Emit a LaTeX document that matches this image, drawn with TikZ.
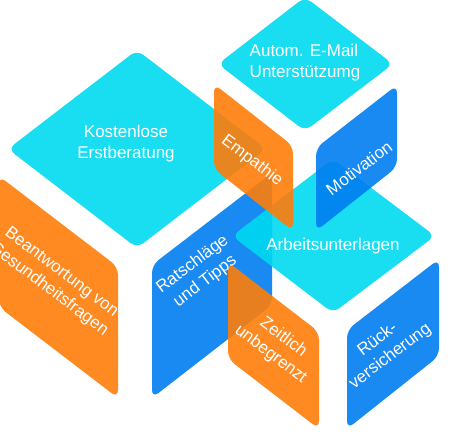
\documentclass[tikz,border=0pt]{standalone}
\usepackage{fontspec}
\setmainfont{Liberation Sans}
\begin{document}
\begin{tikzpicture}[x=1pt, y=-1pt,
    tile/.style={rounded corners=8pt, fill opacity=0.9},
    cyantile/.style={tile, fill=tilecyan},
    orangetile/.style={tile, fill=tileorange},
    bluetile/.style={tile, fill=tileblue},
    lbl/.style={text=white, align=center, font=\fontsize{17}{21}\selectfont, inner sep=0pt}]
    % Farben wie im Bild
    \definecolor{tilecyan}{RGB}{0, 217, 240}
    \definecolor{tileorange}{RGB}{255, 125, 10}
    \definecolor{tileblue}{RGB}{0, 125, 240}

    \useasboundingbox (0,0) rectangle (463,440);
    \clip (0,0) rectangle (463,440);

    % 1. Grosser Wuerfel links
    \fill[cyantile] (137,50) -- (266,149) -- (137,248) -- (8,149) -- cycle;
    \fill[orangetile] (-1,176) -- (118,267) -- (118,398) -- (-1,307) -- cycle;
    \fill[bluetile] (152,265) -- (272,173) -- (272,305) -- (152,398) -- cycle;

    % 2. Kleiner Wuerfel oben rechts
    \fill[cyantile] (305,-3) -- (393,64) -- (305,131) -- (218,64) -- cycle;

    % 3. Wuerfel unten rechts
    \fill[cyantile] (333,159) -- (435,236) -- (333,313) -- (232,236) -- cycle;
    \fill[bluetile] (316,148) -- (397,85) -- (397,167) -- (316,231) -- cycle;
    \fill[orangetile] (214,84) -- (293,146) -- (293,231) -- (214,169) -- cycle;
    \fill[orangetile] (228,262) -- (319,332) -- (319,429) -- (228,359) -- cycle;
    \fill[bluetile] (347,330) -- (439,259) -- (439,356) -- (347,429) -- cycle;

    % 4. Beschriftungen
    \node[lbl] (erst) at (126,144) {Kostenlose\\Erstberatung};
    \node[lbl, align=left] (email) at (305,63) {Autom. E-Mail\\Unterstützumg};
    \node[lbl] (arbeit) at (333,246) {Arbeitsunterlagen};
    \node[lbl, rotate=-37] (fragen) at (55,281) {Beantwortung von\\Gesundheitsfragen};
    \node[lbl, rotate=37] (tipps) at (199,273) {Ratschläge\\und Tipps};
    \node[lbl, rotate=-37] (empathie) at (252,161) {Empathie};
    \node[lbl, rotate=37] (motiv) at (359,168) {Motivation};
    \node[lbl, rotate=-37] (zeit) at (277,346) {Zeitlich\\unbegrenzt};
    \node[lbl, rotate=37] (rueck) at (384,348) {Rück-\\versicherung};
\end{tikzpicture}
\end{document}
